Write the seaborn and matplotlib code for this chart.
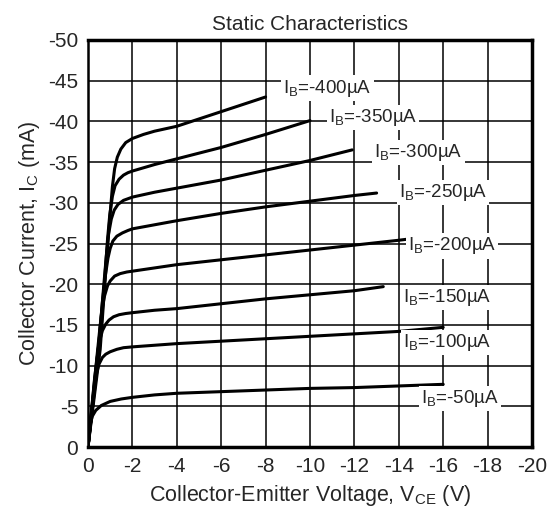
import pandas as pd
import matplotlib.pyplot as plt
import seaborn as sns

# base current curves (V in volts, I in mA)
ib_labels = ["-50", "-100", "-150", "-200", "-250", "-300", "-350", "-400"]

vce_50 = [0, -0.05, -0.1, -0.2, -0.35, -0.6, -1.0, -1.5, -2, -3, -4, -6, -8, -10, -12, -14, -16]
ic_50 = [0, -1.5, -2.8, -3.8, -4.5, -5.1, -5.6, -5.9, -6.1, -6.4, -6.6, -6.8, -7.0, -7.2, -7.3, -7.5, -7.7]

vce_100 = [0, -0.2, -0.3, -0.4, -0.5, -0.65, -0.8, -1.0, -1.3, -1.6, -2, -3, -4, -6, -8, -10, -12, -14, -16]
ic_100 = [0, -5, -7.5, -9.2, -10.2, -11.0, -11.4, -11.7, -12.0, -12.2, -12.3, -12.5, -12.7, -13.0, -13.3, -13.6, -13.9, -14.2, -14.7]

vce_150 = [0, -0.3, -0.45, -0.55, -0.65, -0.8, -0.95, -1.15, -1.4, -1.7, -2, -3, -4, -6, -8, -10, -12, -13.3]
ic_150 = [0, -8.5, -11.8, -13.3, -14.3, -15.1, -15.6, -16.0, -16.25, -16.4, -16.5, -16.8, -17.0, -17.6, -18.2, -18.7, -19.2, -19.7]

vce_200 = [0, -0.4, -0.55, -0.65, -0.75, -0.88, -1.0, -1.2, -1.45, -1.75, -2, -3, -4, -6, -8, -10, -12, -14, -14.9]
ic_200 = [0, -11, -15, -17.2, -18.6, -19.8, -20.4, -21.0, -21.3, -21.5, -21.6, -22.0, -22.4, -23.0, -23.6, -24.2, -24.8, -25.4, -25.7]

vce_250 = [0, -0.5, -0.65, -0.78, -0.9, -1.0, -1.12, -1.3, -1.55, -1.8, -2, -3, -4, -6, -8, -10, -12, -13]
ic_250 = [0, -13, -17.8, -21, -23.2, -24.4, -25.3, -25.9, -26.3, -26.6, -26.8, -27.3, -27.8, -28.7, -29.5, -30.2, -30.9, -31.2]

vce_300 = [0, -0.5, -0.7, -0.82, -0.93, -1.05, -1.18, -1.35, -1.6, -1.8, -2, -3, -4, -6, -8, -10, -11.9]
ic_300 = [0, -13, -19.5, -23.3, -26.2, -28, -29.1, -29.8, -30.3, -30.5, -30.7, -31.3, -31.8, -32.8, -34, -35.2, -36.5]

vce_350 = [0, -0.55, -0.75, -0.88, -0.98, -1.1, -1.22, -1.4, -1.6, -1.8, -2, -3, -4, -6, -8, -10]
ic_350 = [0, -13, -20.5, -25.5, -28.5, -30.8, -32.1, -32.9, -33.4, -33.7, -33.9, -34.7, -35.4, -36.8, -38.4, -40.1]

vce_400 = [0, -0.55, -0.77, -0.9, -1.0, -1.1, -1.2, -1.32, -1.48, -1.7, -2, -2.5, -3, -4, -6, -8]
ic_400 = [0, -12, -20.5, -25.3, -28.7, -32, -34.2, -35.6, -36.6, -37.4, -37.9, -38.4, -38.8, -39.4, -41.2, -43]

# label anchor points (left edge, vertical centre)
label_x = [-15.0, -14.2, -14.2, -14.4, -14.0, -12.9, -10.85, -8.8]
label_y = [-6.0, -12.8, -18.4, -24.7, -31.3, -36.2, -40.5, -44.1]

vce_all = [vce_50, vce_100, vce_150, vce_200, vce_250, vce_300, vce_350, vce_400]
ic_all = [ic_50, ic_100, ic_150, ic_200, ic_250, ic_300, ic_350, ic_400]

frames = []
for lab, v, i in zip(ib_labels, vce_all, ic_all):
    frames.append(pd.DataFrame({"V": v, "I": i, "IB": lab}))
df = pd.concat(frames, ignore_index=True)

sns.set_style("white")
plt.rcParams["font.family"] = ["Liberation Sans", "DejaVu Sans"]
plt.rcParams["mathtext.fontset"] = "custom"
plt.rcParams["mathtext.rm"] = "Liberation Sans"
plt.rcParams["mathtext.it"] = "Liberation Sans"

fig = plt.figure(figsize=(5.52, 5.27), dpi=100)
ax = fig.add_axes([0.1594, 0.1518, 0.8044, 0.7723])

sns.lineplot(
    data=df,
    x="V",
    y="I",
    hue="IB",
    palette=["black"] * len(ib_labels),
    estimator=None,
    sort=False,
    legend=False,
    linewidth=2.2,
    ax=ax,
    zorder=3,
)

for lab, lx, ly in zip(ib_labels, label_x, label_y):
    ax.text(
        lx, ly, "I$_\\mathregular{B}$=" + lab + "\u00b5A",
        fontsize=13.5, va="center", ha="left", zorder=4,
        bbox=dict(facecolor="white", edgecolor="none", pad=1.5),
    )

ax.set_xlim(0, -20)
ax.set_ylim(0, -50)
ax.set_xticks(range(0, -21, -2))
ax.set_yticks(range(0, -51, -5))
ax.set_xticklabels(["0"] + [str(t) for t in range(-2, -21, -2)])
ax.set_yticklabels(["0"] + [str(t) for t in range(-5, -51, -5)])
ax.grid(True, color="black", linewidth=1.1)
ax.set_axisbelow(True)
ax.tick_params(length=0, labelsize=15, pad=7)

for side in ["top", "right", "bottom"]:
    ax.spines[side].set_linewidth(2.5)
    ax.spines[side].set_color("black")
ax.spines["left"].set_linewidth(1.8)
ax.spines["left"].set_color("black")

ax.set_title("Static Characteristics", fontsize=15, pad=7)
ax.set_xlabel("Collector-Emitter Voltage, V$_\\mathregular{CE}$ (V)", fontsize=15.5, labelpad=5)
ax.set_ylabel("Collector Current, I$_\\mathregular{C}$ (mA)", fontsize=15.5, labelpad=4)

fig.savefig("out.png", dpi=100)
